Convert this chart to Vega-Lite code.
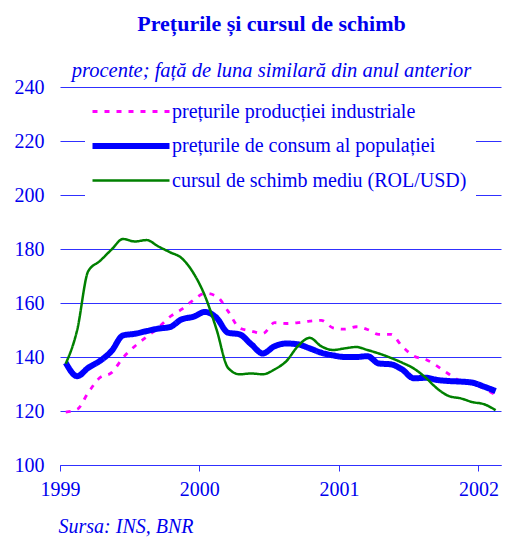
{
  "$schema": "https://vega.github.io/schema/vega-lite/v6.json",
  "width": 441,
  "height": 378,
  "autosize": {"type": "none"},
  "padding": {"left": 60, "top": 87, "right": 5, "bottom": 73},
  "background": "white",
  "title": {
    "text": "Prețurile și cursul de schimb",
    "subtitle": "procente; față de luna similară din anul anterior",
    "font": "Liberation Serif",
    "fontSize": 22,
    "fontWeight": "bold",
    "color": "#0000ee",
    "subtitleFont": "Liberation Serif",
    "subtitleFontSize": 20.5,
    "subtitleFontStyle": "italic",
    "subtitleColor": "#0000ee",
    "subtitlePadding": 25,
    "anchor": "middle",
    "frame": "group",
    "offset": -5,
    "dx": -9
  },
  "config": {
    "view": {"stroke": null},
    "font": "Liberation Serif",
    "axisY": {"gridColor": "#3030ff", "gridOpacity": 1}
  },
  "data": {
    "values": [
      {"d": "1999-01-16", "ind": 119.6, "cons": 137.9, "curs": 137.5},
      {"d": "1999-02-15", "ind": 120.6, "cons": 132.9, "curs": 150.0},
      {"d": "1999-03-16", "ind": 126.8, "cons": 136.0, "curs": 171.8},
      {"d": "1999-04-15", "ind": 132.3, "cons": 138.5, "curs": 175.5},
      {"d": "1999-05-16", "ind": 134.2, "cons": 142.2, "curs": 179.8},
      {"d": "1999-06-15", "ind": 139.7, "cons": 148.0, "curs": 183.7},
      {"d": "1999-07-16", "ind": 144.0, "cons": 148.6, "curs": 182.8},
      {"d": "1999-08-16", "ind": 147.5, "cons": 149.6, "curs": 183.3},
      {"d": "1999-09-15", "ind": 150.8, "cons": 150.5, "curs": 181.0},
      {"d": "1999-10-16", "ind": 154.9, "cons": 151.1, "curs": 178.8},
      {"d": "1999-11-15", "ind": 157.6, "cons": 153.9, "curs": 176.7},
      {"d": "1999-12-16", "ind": 161.0, "cons": 154.9, "curs": 171.2},
      {"d": "2000-01-16", "ind": 163.6, "cons": 156.7, "curs": 162.5},
      {"d": "2000-02-15", "ind": 162.5, "cons": 154.5, "curs": 150.2},
      {"d": "2000-03-16", "ind": 157.0, "cons": 149.0, "curs": 136.0},
      {"d": "2000-04-15", "ind": 150.8, "cons": 148.4, "curs": 133.6},
      {"d": "2000-05-16", "ind": 149.6, "cons": 144.7, "curs": 133.9},
      {"d": "2000-06-15", "ind": 148.7, "cons": 141.3, "curs": 133.6},
      {"d": "2000-07-16", "ind": 152.7, "cons": 144.0, "curs": 135.4},
      {"d": "2000-08-16", "ind": 152.4, "cons": 145.0, "curs": 138.5},
      {"d": "2000-09-15", "ind": 152.7, "cons": 144.7, "curs": 144.0},
      {"d": "2000-10-16", "ind": 153.3, "cons": 143.2, "curs": 147.1},
      {"d": "2000-11-15", "ind": 153.6, "cons": 141.6, "curs": 144.0},
      {"d": "2000-12-16", "ind": 150.8, "cons": 140.6, "curs": 142.6},
      {"d": "2001-01-16", "ind": 150.3, "cons": 140.0, "curs": 143.2},
      {"d": "2001-02-15", "ind": 151.2, "cons": 140.0, "curs": 143.7},
      {"d": "2001-03-16", "ind": 150.2, "cons": 140.3, "curs": 142.6},
      {"d": "2001-04-15", "ind": 148.4, "cons": 137.6, "curs": 141.3},
      {"d": "2001-05-16", "ind": 148.4, "cons": 137.3, "curs": 139.7},
      {"d": "2001-06-15", "ind": 144.0, "cons": 135.4, "curs": 137.9},
      {"d": "2001-07-16", "ind": 140.3, "cons": 132.1, "curs": 135.7},
      {"d": "2001-08-16", "ind": 139.1, "cons": 132.3, "curs": 132.3},
      {"d": "2001-09-15", "ind": 136.6, "cons": 131.5, "curs": 128.3},
      {"d": "2001-10-16", "ind": 133.6, "cons": 131.1, "curs": 125.5},
      {"d": "2001-11-15", "ind": 131.1, "cons": 130.9, "curs": 124.7},
      {"d": "2001-12-16", "ind": 130.2, "cons": 130.5, "curs": 123.3},
      {"d": "2002-01-16", "ind": 128.3, "cons": 129.0, "curs": 122.5},
      {"d": "2002-02-15", "ind": 125.9, "cons": 127.4, "curs": 120.3}
    ]
  },
  "transform": [{"fold": ["ind", "cons", "curs"], "as": ["series", "value"]}],
  "mark": {"type": "line", "interpolate": "monotone"},
  "encoding": {
    "x": {
      "field": "d",
      "type": "temporal",
      "scale": {"type": "utc", "domain": [{"year": 1999, "month": 1, "date": 1, "utc": true}, {"year": 2002, "month": 3, "date": 1, "utc": true}]},
      "axis": {
        "format": "%Y",
        "tickCount": "year",
        "grid": false,
        "domainColor": "#3030ff",
        "domainWidth": 1.2,
        "tickColor": "#3030ff",
        "tickSize": 6,
        "labelPadding": 8,
        "labelFont": "Liberation Serif",
        "labelFontSize": 20,
        "labelColor": "#0000ee",
        "labelFlush": false,
        "title": "Sursa: INS, BNR",
        "titleFont": "Liberation Serif",
        "titleFontSize": 20,
        "titleFontStyle": "italic",
        "titleFontWeight": "normal",
        "titleColor": "#0000ee",
        "titleAnchor": "start",
        "titleAlign": "left",
        "titleBaseline": "alphabetic",
        "titleX": -2,
        "titleY": 67
      }
    },
    "y": {
      "field": "value",
      "type": "quantitative",
      "scale": {"domain": [100, 240], "nice": false},
      "axis": {
        "values": [100, 120, 140, 160, 180, 200, 220, 240],
        "grid": true,
        "gridColor": "#3030ff",
        "gridWidth": 1.2,
        "domain": false,
        "ticks": false,
        "labelPadding": 16,
        "labelFont": "Liberation Serif",
        "labelFontSize": 20,
        "labelColor": "#0000ee",
        "title": null
      }
    },
    "color": {
      "field": "series",
      "type": "nominal",
      "scale": {"domain": ["ind", "cons", "curs"], "range": ["#ff00ff", "#0000ff", "#008000"]},
      "legend": {
        "orient": "none",
        "legendX": 25,
        "legendY": 4,
        "fillColor": "white",
        "padding": 9,
        "title": null,
        "symbolType": "M-3.85,0L3.85,0",
        "symbolSize": 400,
        "symbolOffset": 24,
        "symbolFillColor": "transparent",
        "labelFont": "Liberation Serif",
        "labelFontSize": 20,
        "labelColor": "#0000ee",
        "labelOffset": 28,
        "labelLimit": 0,
        "rowPadding": 11,
        "labelExpr": "datum.label == 'ind' ? 'prețurile producției industriale' : datum.label == 'cons' ? 'prețurile de consum al populației' : 'cursul de schimb mediu (ROL/USD)'"
      }
    },
    "strokeDash": {
      "field": "series",
      "type": "nominal",
      "scale": {"type": "ordinal", "domain": ["ind", "cons", "curs"], "range": [[5, 7], [1, 0], [1, 0]]}
    },
    "strokeWidth": {
      "field": "series",
      "type": "nominal",
      "scale": {"type": "ordinal", "domain": ["ind", "cons", "curs"], "range": [2.8, 6, 2.5]}
    }
  }
}
